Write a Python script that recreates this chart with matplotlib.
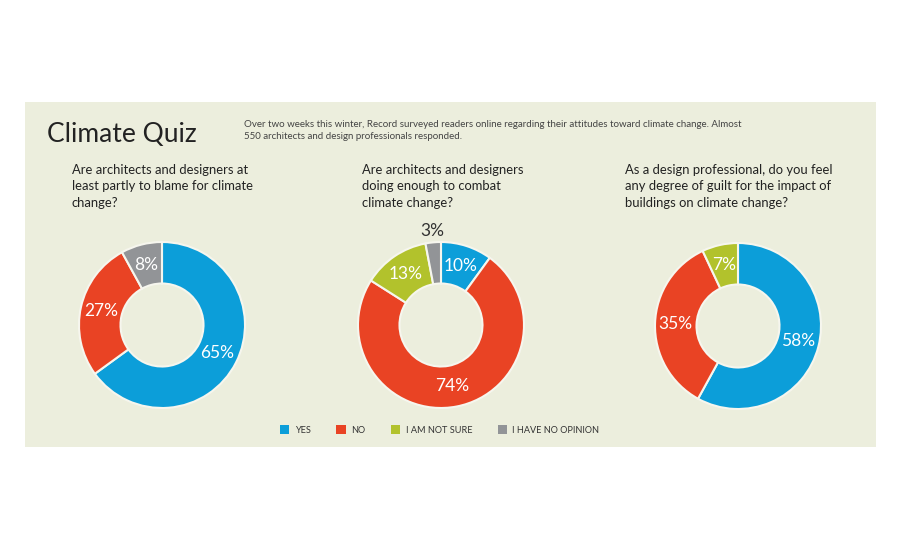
import numpy as np
import matplotlib.pyplot as plt
from matplotlib.patches import Rectangle, Patch

# survey answers, in percent
categories = ["YES", "NO", "I AM NOT SURE", "I HAVE NO OPINION"]
colors = ["#0c9ed9", "#e94324", "#b2c22c", "#929497"]
blame = [65, 27, 0, 8]
enough = [10, 74, 13, 3]
guilt = [58, 35, 7, 0]
questions = [
    "Are architects and designers at\nleast partly to blame for climate\nchange?",
    "Are architects and designers\ndoing enough to combat\nclimate change?",
    "As a design professional, do you feel\nany degree of guilt for the impact of\nbuildings on climate change?",
]
title = "Climate Quiz"
intro = ("Over two weeks this winter, Record surveyed readers online regarding their attitudes toward climate change. Almost\n"
         "550 architects and design professionals responded.")

W, H = 900, 550
bg = "#eceedd"
plt.rcParams['font.family'] = ['Lato', 'DejaVu Sans']

def fx(x):
    return x / W

def fy(y):
    return 1 - y / H

fig = plt.figure(figsize=(W / 100, H / 100), dpi=100)
fig.patch.set_facecolor("white")
fig.add_artist(Rectangle((fx(25), fy(447)), (876 - 25) / W, (447 - 102) / H,
                         transform=fig.transFigure, facecolor=bg, edgecolor="none", zorder=0))

fig.text(fx(47), fy(142), title, fontsize=19, color="#222222", va="baseline")
fig.text(fx(244), fy(120), intro, fontsize=7.05, color="#444444", va="top", linespacing=1.4)

# donuts
centers = [(162, 325), (441, 325), (738, 326)]
qx = [72, 362, 625]
r = 83
pad = 1.3
for data, q, (cx, cy), tx in zip([blame, enough, guilt], questions, centers, qx):
    fig.text(fx(tx), fy(164), q, fontsize=9.4, color="#222222", va="top", linespacing=1.45)
    ax = fig.add_axes([fx(cx - pad * r), fy(cy + pad * r), 2 * pad * r / W, 2 * pad * r / H])
    vals = [v for v in data if v > 0]
    cols = [c for v, c in zip(data, colors) if v > 0]
    wedges, _ = ax.pie(vals, colors=cols, startangle=90, counterclock=False, radius=1,
                       wedgeprops=dict(width=0.5, edgecolor="#f6f6ee", linewidth=1.5))
    for w, v in zip(wedges, vals):
        th = np.deg2rad((w.theta1 + w.theta2) / 2)
        if v < 5:
            rr, tc = 1.14, "#333333"
        else:
            rr, tc = 0.75, "white"
        ax.text(rr * np.cos(th), rr * np.sin(th), f"{v}%", ha="center", va="center",
                fontsize=12.5, color=tc)
    ax.set_xlim(-pad, pad)
    ax.set_ylim(-pad, pad)
    ax.axis("off")

handles = [Patch(facecolor=c, edgecolor="none") for c in colors]
fig.legend(handles, categories, loc="center left", bbox_to_anchor=(fx(272), fy(430)),
           ncol=4, frameon=False, fontsize=6.6, handlelength=1.0, handleheight=1.0,
           handletextpad=0.6, columnspacing=2.8, labelcolor="#333333")

fig.savefig("out.png", dpi=100, facecolor="white")
